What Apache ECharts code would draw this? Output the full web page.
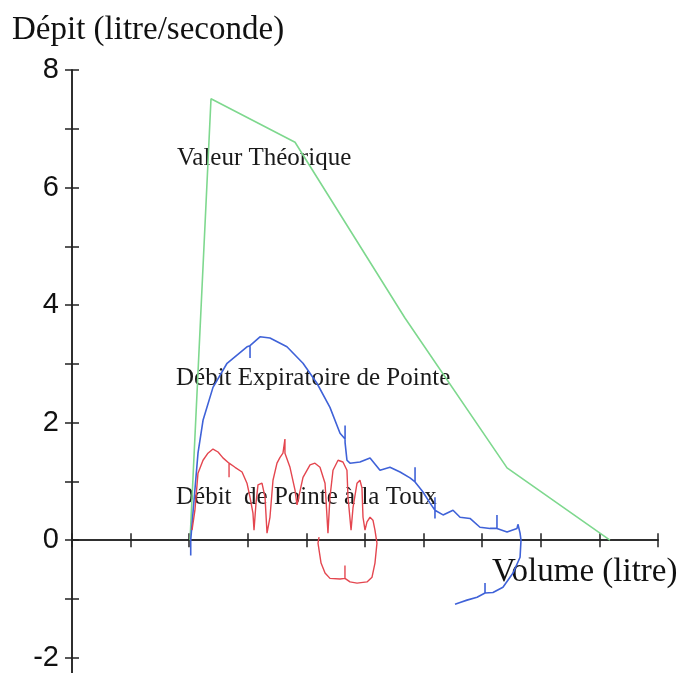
<!DOCTYPE html>
<html>
<head>
<meta charset="utf-8">
<script src="https://cdn.jsdelivr.net/npm/echarts@6/dist/echarts.min.js"></script>
<style>
html,body{margin:0;padding:0;background:#fff;}
#c{width:685px;height:673px;}
</style>
</head>
<body>
<div id="c"></div>
<script>
// Axis ticks / labels
var yTickValues = [-2, -1, 0, 1, 2, 3, 4, 5, 6, 7, 8];
var yLabelValues = [-2, 0, 2, 4, 6, 8];
var xMin = 0, xMax = 5, xStep = 0.5;
var yMin = -2.26, yMax = 8;

// Texts
var yTitle = 'Dépit (litre/seconde)';
var xTitle = 'Volume (litre)';
var labelTheo = 'Valeur Théorique';
var labelDEP = 'Débit Expiratoire de Pointe';
var labelDPT = 'Débit  de Pointe à la Toux';

// Valeur Théorique [volume, débit]
var theoretical = [
  [1.007, 0], [1.186, 7.51], [1.903, 6.77], [2.841, 3.78], [3.712, 1.23], [4.590, 0]
];

// Débit Expiratoire de Pointe
var expiratory = [
  [1.013, -0.26], [1.013, 0], [1.032, 0.46], [1.075, 1.48], [1.118, 2.04], [1.203, 2.60],
  [1.323, 3.01], [1.493, 3.29], [1.519, 3.31], [1.519, 3.10], [1.519, 3.31],
  [1.604, 3.46], [1.689, 3.44], [1.834, 3.29], [1.971, 3.01], [2.090, 2.67],
  [2.201, 2.26], [2.287, 1.82], [2.330, 1.72], [2.330, 1.95], [2.330, 1.66],
  [2.346, 1.36], [2.372, 1.31], [2.457, 1.33], [2.543, 1.40], [2.628, 1.19],
  [2.713, 1.24], [2.799, 1.16], [2.884, 1.06], [2.927, 0.99], [2.927, 1.24], [2.927, 0.99],
  [2.995, 0.82], [3.055, 0.63], [3.097, 0.51], [3.097, 0.73], [3.097, 0.37], [3.097, 0.51],
  [3.166, 0.43], [3.251, 0.51], [3.311, 0.39], [3.396, 0.37], [3.481, 0.22],
  [3.567, 0.20], [3.626, 0.20], [3.626, 0.43], [3.626, 0.20], [3.712, 0.14],
  [3.797, 0.20], [3.805, 0.27], [3.823, 0.12], [3.831, 0], [3.823, -0.29],
  [3.763, -0.56], [3.677, -0.80], [3.592, -0.89], [3.524, -0.90], [3.524, -0.73], [3.524, -0.90],
  [3.456, -0.97], [3.370, -1.02], [3.311, -1.06], [3.268, -1.09]
];

// Débit de Pointe à la Toux
var cough = [
  [1.024, 0.17], [1.049, 0.51], [1.075, 1.14], [1.118, 1.36], [1.160, 1.48], [1.203, 1.55],
  [1.246, 1.50], [1.288, 1.40], [1.340, 1.31], [1.340, 1.07], [1.340, 1.31], [1.391, 1.24],
  [1.451, 1.16], [1.493, 0.97], [1.519, 0.73], [1.544, 0.46], [1.553, 0.17], [1.570, 0.63],
  [1.587, 0.94], [1.621, 0.97], [1.647, 0.73], [1.664, 0.12], [1.689, 0.39], [1.715, 1.02],
  [1.749, 1.31], [1.775, 1.41], [1.800, 1.48], [1.817, 1.72], [1.817, 1.48], [1.860, 1.24],
  [1.903, 0.85], [1.920, 0.60], [1.971, 1.07], [2.031, 1.28], [2.073, 1.31], [2.116, 1.24],
  [2.159, 0.97], [2.184, 0.12], [2.201, 0.73], [2.227, 1.19], [2.270, 1.36], [2.312, 1.33],
  [2.346, 1.19], [2.355, 0.73], [2.381, 0.17], [2.398, 0.56], [2.432, 0.97], [2.457, 1.02],
  [2.474, 0.89], [2.483, 0.39], [2.500, 0.17], [2.517, 0.31], [2.543, 0.39], [2.568, 0.34],
  [2.585, 0.17], [2.602, -0.05], [2.585, -0.39], [2.560, -0.63], [2.517, -0.71], [2.432, -0.73],
  [2.372, -0.71], [2.329, -0.65], [2.329, -0.43], [2.329, -0.65], [2.287, -0.66], [2.201, -0.65],
  [2.159, -0.56], [2.125, -0.39], [2.099, -0.05], [2.108, 0.05]
];

var axisColor = '#222';
var chart = echarts.init(document.getElementById('c'), null, {renderer: 'canvas'});

function xAx(inside) {
  return {
    type: 'value', min: xMin, max: xMax, interval: xStep, position: 'bottom',
    axisLine: {show: true, onZero: true, onZeroAxisIndex: 0, lineStyle: {color: axisColor, width: 1.5}},
    axisTick: {show: true, inside: inside, length: 7, lineStyle: {color: axisColor, width: 1.5}},
    axisLabel: {show: false},
    splitLine: {show: false}
  };
}
function yAx(inside) {
  return {
    type: 'value', min: yMin, max: yMax, position: 'left',
    axisLine: {show: true, onZero: false, lineStyle: {color: axisColor, width: 1.5}},
    axisTick: {show: true, inside: inside, length: 7, customValues: yTickValues, lineStyle: {color: axisColor, width: 1.5}},
    axisLabel: {show: !inside, customValues: yLabelValues, margin: 13, color: '#111',
      fontFamily: 'Liberation Sans', fontSize: 29},
    splitLine: {show: false}
  };
}

var serif = 'Liberation Serif';
chart.setOption({
  animation: false,
  backgroundColor: '#fff',
  grid: {left: 72, top: 70, width: 586, height: 603, containLabel: false},
  xAxis: [xAx(false), xAx(true)],
  yAxis: [yAx(false), yAx(true)],
  series: [
    {type: 'line', name: labelTheo, data: theoretical, showSymbol: false, xAxisIndex: 0, yAxisIndex: 0,
      lineStyle: {color: '#7ed88e', width: 1.6}, itemStyle: {color: '#7ed88e'}},
    {type: 'line', name: labelDEP, data: expiratory, showSymbol: false, xAxisIndex: 0, yAxisIndex: 0,
      lineStyle: {color: '#3f62d8', width: 1.6}, itemStyle: {color: '#3f62d8'}},
    {type: 'line', name: labelDPT, data: cough, showSymbol: false, xAxisIndex: 0, yAxisIndex: 0,
      lineStyle: {color: '#e4464f', width: 1.4}, itemStyle: {color: '#e4464f'}}
  ],
  graphic: [
    {type: 'text', x: 12, y: 30, style: {text: yTitle, font: '33px "' + serif + '"', fill: '#111', verticalAlign: 'middle'}},
    {type: 'text', x: 492, y: 572, style: {text: xTitle, font: '33px "' + serif + '"', fill: '#111', verticalAlign: 'middle'}},
    {type: 'text', x: 177, y: 158, style: {text: labelTheo, font: '25px "' + serif + '"', fill: '#1a1a1a', verticalAlign: 'middle'}},
    {type: 'text', x: 176, y: 378, style: {text: labelDEP, font: '25px "' + serif + '"', fill: '#1a1a1a', verticalAlign: 'middle'}},
    {type: 'text', x: 176, y: 497, style: {text: labelDPT, font: '25px "' + serif + '"', fill: '#1a1a1a', verticalAlign: 'middle'}}
  ]
});
</script>
</body>
</html>
